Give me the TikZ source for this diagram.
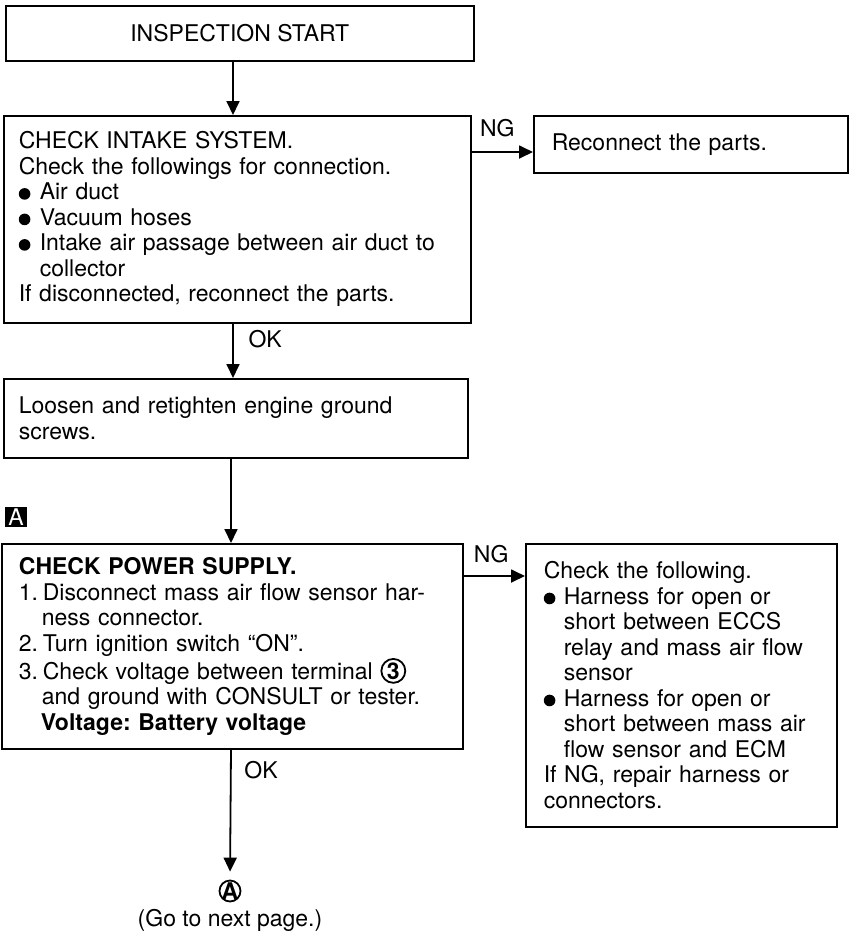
\documentclass[tikz,border=0pt]{standalone}
\usepackage{fontspec}
\setmainfont{TeX Gyre Heros}
\usetikzlibrary{positioning, arrows.meta}
\frenchspacing

\newcommand{\fsz}{\fontsize{11.5pt}{12.75pt}\selectfont}
\newcommand{\blt}{\tikz[baseline=0pt, x=1pt, y=1pt]\fill (0,3pt) circle[radius=2.9pt];}
\newcommand{\bitem}[1]{\makebox[#1][l]{\blt}}
\newcommand{\nitem}[1]{\makebox[12pt][l]{#1.}}
\newcommand{\cnum}[1]{\tikz[baseline=(cn.base), x=1pt, y=1pt]\node[circle, draw,
  anchor=center, text width=, align=none, minimum size=0pt,
  line width=0.9pt, inner sep=0.5pt, font=\fsz\bfseries] (cn) {#1};}

\begin{document}
\begin{tikzpicture}[
        x=0.5pt, y=-0.5pt,
        every node/.style={font=\fsz},
        box/.style={draw, line width=0.8pt, anchor=north west,
          inner ysep=0pt, align=left},
        arr/.style={-{Triangle[length=7pt, width=6.5pt]}, line width=0.9pt},
      ]
      \useasboundingbox (0,0) rectangle (849,934);

      \node[box, align=center, inner xsep=0pt, minimum width=234pt,
        minimum height=27.5pt] (start) at (5,5) {INSPECTION START};

      \node[box, inner xsep=7.5pt, text width=218.5pt, minimum width=233.5pt,
        minimum height=103.5pt] (intake) at (3,115)
      {CHECK INTAKE SYSTEM.\\
        Check the followings for connection.\\
        \bitem{10.5pt}Air duct\\
        \bitem{10.5pt}Vacuum hoses\\
        \bitem{10.5pt}Intake air passage between air duct~to\\
        \hspace*{10.5pt}collector\\
        If disconnected, reconnect the parts.};

      \node[box, inner xsep=9pt, text width=139pt, minimum width=157pt,
        minimum height=28.5pt] (reconnect) at (533,115)
      {Reconnect the parts.};

      \node[box, inner xsep=7.5pt, text width=217pt, minimum width=232pt,
        minimum height=39.5pt] (loosen) at (3,378)
      {Loosen and retighten engine ground\\
        screws.};

      \node[fill=black, text=white, inner sep=0pt, minimum width=11pt,
        minimum height=10pt] (mark) at (16,517) {A};

      \node[box, inner xsep=8.5pt, text width=213.5pt, minimum width=230.5pt,
        minimum height=102.5pt] (power) at (1,543)
      {\textbf{CHECK POWER SUPPLY.}\\
        \nitem{1}Disconnect mass air flow sensor har-\\
        \hspace*{11.5pt}ness connector.\\
        \nitem{2}Turn ignition switch ``ON''.\\
        \nitem{3}Check voltage between terminal~\cnum{3}\\
        \hspace*{11.5pt}and ground with CONSULT or tester.\\
        \hspace*{11pt}\textbf{Voltage: Battery voltage}};

      \node[box, inner xsep=9pt, text width=137.5pt, minimum width=155.5pt,
        minimum height=141.5pt] (check) at (525,543)
      {Check the following.\\
        \bitem{10pt}Harness for open or\\
        \hspace*{10pt}short between ECCS\\
        \hspace*{10pt}relay and mass air flow\\
        \hspace*{10pt}sensor\\
        \bitem{10pt}Harness for open or\\
        \hspace*{10pt}short between mass air\\
        \hspace*{10pt}flow sensor and ECM\\
        If NG, repair harness or\\
        connectors.};

      \node[circle, draw, line width=0.9pt, inner sep=-1.2pt, minimum size=10.5pt,
        font=\fsz\bfseries] (goA) at (230,891) {A};
      \node[below=0pt of goA] (nextpage) {(Go to next page.)};

      % spine of the chart
      \coordinate (colA) at (233,0);
      \coordinate (colB) at (231,0);
      \coordinate (ngA) at (0,152);
      \coordinate (ngB) at (0,576);

      \draw[arr] (colA |- start.south) -- (colA |- intake.north);
      \draw[arr] (colA |- intake.south) -- node[right=4pt, pos=0.28] {OK}
        (colA |- loosen.north);
      \draw[arr] (colB |- loosen.south) -- (colB |- power.north);
      \draw[arr, shorten >=4pt] (colB |- power.south) -- node[right=3pt, pos=0.16] {OK}
        (goA.north);

      \draw[arr] (intake.east |- ngA) -- node[above=4pt, pos=0.42] {NG}
        (reconnect.west |- ngA);
      \draw[arr] (power.east |- ngB) -- node[above=3pt, pos=0.45] {NG}
        (check.west |- ngB);

    \end{tikzpicture}
\end{document}
